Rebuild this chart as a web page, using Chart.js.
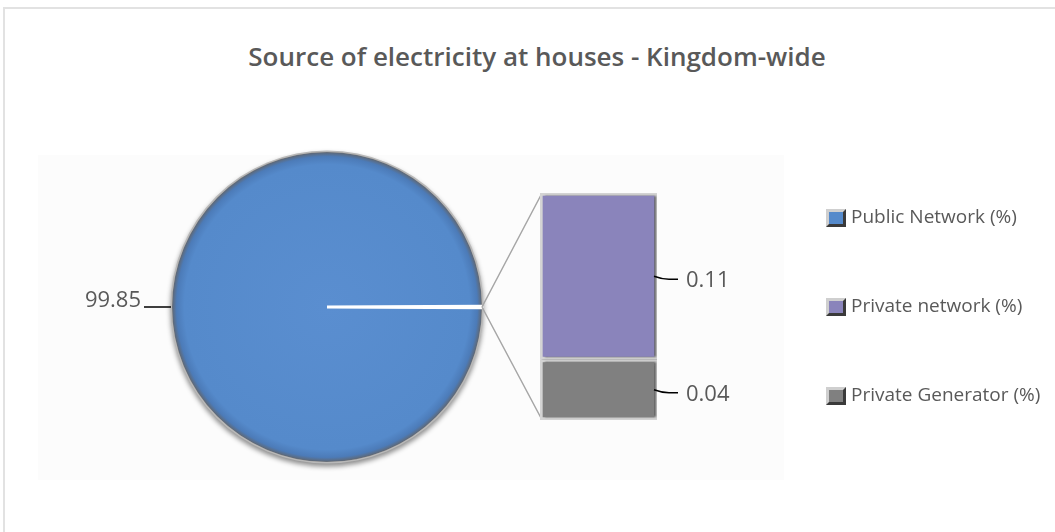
<!DOCTYPE html>
<html>
<head>
<meta charset="utf-8">
<title>Source of electricity at houses</title>
<script src="https://cdn.jsdelivr.net/npm/chart.js@4.4.1/dist/chart.umd.min.js"></script>
<style>
  html, body { margin: 0; padding: 0; background: #fff; overflow: hidden; }
  #wrap { position: relative; width: 1055px; height: 532px; }
  #frame { position: absolute; left: 3px; top: 7px; width: 1100px; height: 600px; border: 2px solid #e2e2e2; box-sizing: border-box; }
  #plotBg { position: absolute; left: 38px; top: 155px; width: 746px; height: 325px; background: #fcfcfc; }
  #title { position: absolute; left: 0; top: 40px; width: 1074px; text-align: center; font-family: 'Open Sans'; font-size: 26px; font-weight: 600; line-height: 32px; color: #595959; }
  canvas { position: absolute; left: 0; top: 0; }
  #legend { position: absolute; left: 0; top: 0; font-family: 'Open Sans'; font-size: 19px; color: #595959; }
  .item { position: absolute; left: 826px; height: 26px; line-height: 26px; display: flex; align-items: center; white-space: nowrap; }
  .swatch { width: 14px; height: 12px; border: 3px solid; border-color: #cfcfcf #3a3a3a #3a3a3a #cfcfcf; margin-right: 5px; margin-top: 3px; }
</style>
</head>
<body>
<div id="wrap">
  <div id="frame"></div>
  <div id="plotBg"></div>
  <div id="title">Source of electricity at houses - Kingdom-wide</div>
  <canvas id="pieChart" width="1055" height="532"></canvas>
  <canvas id="barChart" width="1055" height="532"></canvas>
  <div id="legend"></div>
</div>
<script>
const categories = ['Public Network (%)', 'Private network (%)', 'Private Generator (%)'];
const values = [99.85, 0.11, 0.04];
const colors = ['#558acb', '#8a84bb', '#808080'];

// the two small shares are pulled out into the bar, the pie keeps them as one thin slice
const other = values[1] + values[2];
const pieData = [values[0], other];
const pieRotation = 90 - 360 * (values[0] + other / 2) / (values[0] + other);

const labelFont = '22px "Open Sans"';
const textColor = '#595959';

const pieExtras = {
  id: 'pieExtras',
  beforeDatasetsDraw(chart) {
    // grey rim + soft shadow under the pie
    const arc = chart.getDatasetMeta(0).data[0];
    const ctx = chart.ctx;
    ctx.save();
    ctx.shadowColor = 'rgba(0,0,0,0.45)';
    ctx.shadowBlur = 5;
    ctx.shadowOffsetY = 3;
    ctx.fillStyle = '#b8b8b8';
    ctx.beginPath();
    ctx.arc(arc.x, arc.y, arc.outerRadius + 1.5, 0, Math.PI * 2);
    ctx.fill();
    ctx.restore();
  },
  afterDatasetsDraw(chart) {
    const ctx = chart.ctx;
    const arc = chart.getDatasetMeta(0).data[0];
    const mid = (arc.startAngle + arc.endAngle) / 2;
    const ex = arc.x + Math.cos(mid) * (arc.outerRadius + 1);
    const ey = arc.y + Math.sin(mid) * arc.outerRadius;
    ctx.save();
    ctx.strokeStyle = '#000';
    ctx.lineWidth = 1.5;
    ctx.beginPath();
    ctx.moveTo(ex, ey);
    ctx.lineTo(ex - 27, ey);
    ctx.stroke();
    ctx.font = labelFont;
    ctx.fillStyle = textColor;
    ctx.textAlign = 'right';
    ctx.textBaseline = 'middle';
    ctx.fillText(String(values[0]), ex - 30, ey - 6);
    ctx.restore();
  }
};

const pieChart = new Chart(document.getElementById('pieChart'), {
  type: 'pie',
  data: {
    labels: [categories[0], 'Other'],
    datasets: [{
      data: pieData,
      backgroundColor: (c) => {
        if (c.dataIndex === 1) return '#ffffff';
        const a = c.chart.chartArea;
        if (!a) return colors[0];
        const cx = (a.left + a.right) / 2, cy = (a.top + a.bottom) / 2;
        const g = c.chart.ctx.createRadialGradient(cx, cy, 0, cx, cy, 155);
        g.addColorStop(0, '#5a8ed0');
        g.addColorStop(0.92, '#558acb');
        g.addColorStop(0.97, '#4c7bb8');
        g.addColorStop(0.995, '#5d6a7c');
        g.addColorStop(1, '#7c7c7c');
        return g;
      },
      borderColor: '#ffffff',
      borderWidth: [0, 3],
      borderAlign: 'center'
    }]
  },
  options: {
    responsive: false,
    animation: false,
    radius: 155,
    rotation: pieRotation,
    layout: { padding: { left: 0, right: 401, top: 82, bottom: 0 } },
    plugins: { legend: { display: false }, tooltip: { enabled: false } }
  },
  plugins: [pieExtras]
});

const barExtras = {
  id: 'barExtras',
  beforeDatasetsDraw(chart) {
    const ctx = chart.ctx;
    const topBar = chart.getDatasetMeta(1).data[0];
    const bottomBar = chart.getDatasetMeta(0).data[0];
    const left = topBar.x - topBar.width / 2;
    const arc = pieChart.getDatasetMeta(0).data[1];
    const mid = (arc.startAngle + arc.endAngle) / 2;
    const px = arc.x + Math.cos(mid) * arc.outerRadius;
    const py = arc.y + Math.sin(mid) * arc.outerRadius;
    ctx.save();
    ctx.strokeStyle = '#a6a6a6';
    ctx.lineWidth = 1.5;
    ctx.beginPath();
    ctx.moveTo(px, py);
    ctx.lineTo(left + 1, topBar.y + 2);
    ctx.moveTo(px, py);
    ctx.lineTo(left + 1, bottomBar.base - 2);
    ctx.stroke();
    ctx.restore();
    ctx.save();
    ctx.shadowColor = 'rgba(0,0,0,0.55)';
    ctx.shadowBlur = 2;
    ctx.shadowOffsetX = 2;
  },
  afterDatasetsDraw(chart) {
    const ctx = chart.ctx;
    ctx.restore();
    ctx.save();
    ctx.font = labelFont;
    ctx.fillStyle = textColor;
    ctx.strokeStyle = '#000';
    ctx.lineWidth = 1.5;
    ctx.textAlign = 'left';
    ctx.textBaseline = 'middle';
    chart.data.datasets.forEach((ds, i) => {
      const el = chart.getDatasetMeta(i).data[0];
      const right = el.x + el.width / 2;
      const midY = (el.y + el.base) / 2;
      ctx.beginPath();
      ctx.moveTo(right - 3, midY);
      ctx.quadraticCurveTo(right + 5, midY + 3, right + 12, midY + 3);
      ctx.lineTo(right + 21, midY + 3);
      ctx.stroke();
      ctx.fillText(String(ds.data[0]), right + 29, midY + 5);
    });
    ctx.restore();
  }
};

new Chart(document.getElementById('barChart'), {
  type: 'bar',
  data: {
    labels: [''],
    datasets: [{
      label: categories[2],
      data: [values[2]],
      backgroundColor: colors[2],
      borderColor: '#d4d4d4',
      borderWidth: 3,
      borderSkipped: false
    }, {
      label: categories[1],
      data: [values[1]],
      backgroundColor: colors[1],
      borderColor: '#d4d4d4',
      borderWidth: 3,
      borderSkipped: false
    }]
  },
  options: {
    responsive: false,
    animation: false,
    layout: { padding: { left: 540, right: 398, top: 193, bottom: 112 } },
    datasets: { bar: { barPercentage: 1, categoryPercentage: 1 } },
    scales: {
      x: { display: false, stacked: true },
      y: { display: false, stacked: true, min: 0, max: other }
    },
    plugins: { legend: { display: false }, tooltip: { enabled: false } }
  },
  plugins: [barExtras]
});

// legend, one row per category
const legend = document.getElementById('legend');
categories.forEach((name, i) => {
  const item = document.createElement('div');
  item.className = 'item';
  item.style.top = (203 + i * 89) + 'px';
  const sw = document.createElement('span');
  sw.className = 'swatch';
  sw.style.background = colors[i];
  const txt = document.createElement('span');
  txt.textContent = name;
  item.appendChild(sw);
  item.appendChild(txt);
  legend.appendChild(item);
});
</script>
</body>
</html>
